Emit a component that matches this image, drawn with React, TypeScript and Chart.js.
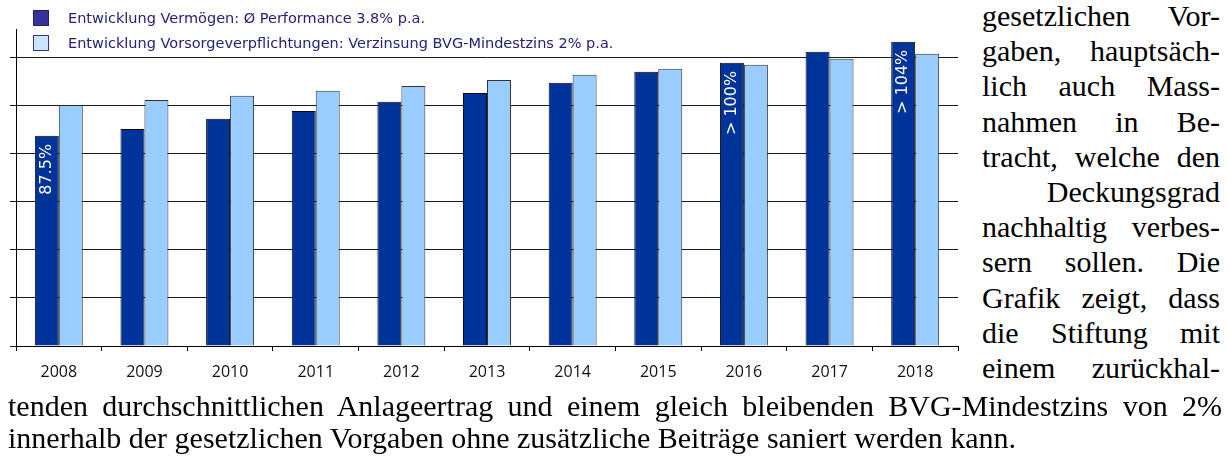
import React, { useEffect, useRef } from "react";
import { Chart, registerables } from "chart.js";

Chart.register(...registerables);

const years = ["2008", "2009", "2010", "2011", "2012", "2013", "2014", "2015", "2016", "2017", "2018"];
const assets = [87.5, 90.4, 94.6, 97.9, 101.7, 105.4, 109.6, 114.2, 117.9, 122.5, 126.7];
const liabilities = [100.2, 102.4, 104.2, 106.3, 108.3, 110.8, 112.9, 115.4, 117.1, 119.6, 121.7];
const barLabels = ["87.5%", "", "", "", "", "", "", "", "> 100%", "", "> 104%"];
const legendLabels = [
  "Entwicklung Vermögen: Ø Performance 3.8% p.a.",
  "Entwicklung Vorsorgeverpflichtungen: Verzinsung BVG-Mindestzins 2% p.a.",
];
const yMax = 132;
const yStep = 20;

const sideLines = [
  "gesetzlichen Vor-",
  "gaben, hauptsäch-",
  "lich auch Mass-",
  "nahmen in Be-",
  "tracht, welche den",
  "Deckungsgrad",
  "nachhaltig verbes-",
  "sern sollen. Die",
  "Grafik zeigt, dass",
  "die Stiftung mit",
  "einem zurückhal-",
];
const bottomLines = [
  "tenden durchschnittlichen Anlageertrag und einem gleich bleibenden BVG-Mindestzins von 2%",
  "innerhalb der gesetzlichen Vorgaben ohne zusätzliche Beiträge saniert werden kann.",
];

const DARK = "#003399";
const LIGHT = "#99ccff";

const sideCenters = [20, 55, 90, 126, 161, 196, 231, 266, 302, 337, 372];
const bottomCenters = [410, 442];

export default function App() {
  const ref = useRef<HTMLCanvasElement>(null);

  useEffect(() => {
    const labelPlugin = {
      id: "barLabels",
      afterDatasetsDraw(chart: any) {
        const meta = chart.getDatasetMeta(0);
        const ctx = chart.ctx;
        ctx.save();
        ctx.fillStyle = "#ffffff";
        ctx.font = '16px "DejaVu Sans"';
        ctx.textAlign = "right";
        ctx.textBaseline = "middle";
        meta.data.forEach((el: any, i: number) => {
          const t = barLabels[i];
          if (!t) return;
          ctx.save();
          ctx.translate(el.x, el.y + 8);
          ctx.rotate(-Math.PI / 2);
          ctx.fillText(t, 0, 0);
          ctx.restore();
        });
        ctx.restore();
      },
    };

    const chart = new Chart(ref.current as HTMLCanvasElement, {
      type: "bar",
      data: {
        labels: years,
        datasets: [
          {
            label: legendLabels[0],
            data: assets,
            backgroundColor: DARK,
            borderColor: "#0a0a0a",
            borderWidth: 1,
            barPercentage: 1,
            categoryPercentage: 0.56,
          },
          {
            label: legendLabels[1],
            data: liabilities,
            backgroundColor: LIGHT,
            borderColor: "#333333",
            borderWidth: 1,
            barPercentage: 1,
            categoryPercentage: 0.56,
          },
        ],
      },
      options: {
        responsive: false,
        animation: false,
        devicePixelRatio: 1,
        layout: { padding: { top: 29, right: 2, left: 0, bottom: 0 } },
        plugins: { legend: { display: false }, tooltip: { enabled: false } },
        scales: {
          x: {
            afterFit: (s: any) => {
              s.height = 54;
            },
            grid: {
              offset: true,
              drawOnChartArea: false,
              drawTicks: true,
              tickLength: 5,
              color: "#000",
            },
            border: { color: "#000", width: 1 },
            ticks: {
              color: "#111",
              padding: 12,
              font: { family: "Open Sans", size: 16 },
            },
          },
          y: {
            min: 0,
            max: yMax,
            afterFit: (s: any) => {
              s.width = 16;
            },
            afterBuildTicks: (s: any) => {
              s.ticks = s.ticks.filter((t: any) => t.value % yStep === 0);
            },
            ticks: { display: false, stepSize: yStep },
            grid: { color: "#1a1a1a", drawTicks: true, tickLength: 6, lineWidth: 1 },
            border: { color: "#000", width: 1 },
          },
        },
      },
      plugins: [labelPlugin],
    });
    return () => chart.destroy();
  }, []);

  const serif = '"Liberation Serif", "Times New Roman", serif';
  const sans = '"DejaVu Sans", Verdana, sans-serif';
  const fs = 30;

  return (
    <div
      style={{
        position: "absolute",
        left: 0,
        top: 0,
        width: 1230,
        height: 463,
        background: "#fff",
        overflow: "hidden",
      }}
    >
      <canvas ref={ref} width={960} height={400} style={{ position: "absolute", left: 0, top: 0 }} />
      {legendLabels.map((t, i) => (
        <React.Fragment key={t}>
          <div
            style={{
              position: "absolute",
              left: 33,
              top: i === 0 ? 10 : 35,
              width: 16,
              height: 16,
              boxSizing: "border-box",
              background: i === 0 ? "#333399" : "#cce5ff",
              border: i === 0 ? "1px solid #1f1f6b" : "1px solid #333399",
            }}
          />
          <div
            style={{
              position: "absolute",
              left: 68,
              top: (i === 0 ? 18 : 43) - 10,
              height: 20,
              lineHeight: "20px",
              whiteSpace: "nowrap",
              fontFamily: sans,
              fontSize: 14.5,
              color: "#22227a",
            }}
          >
            {t}
          </div>
        </React.Fragment>
      ))}
      {sideLines.map((t, i) => (
        <div
          key={t}
          style={{
            position: "absolute",
            left: 982,
            top: sideCenters[i] - 21,
            width: 238,
            height: 34,
            lineHeight: "34px",
            whiteSpace: "nowrap",
            fontFamily: serif,
            fontSize: fs,
            color: "#000",
            textAlign: "justify",
            textAlignLast: i === 5 ? "right" : "justify",
          } as React.CSSProperties}
        >
          {t}
        </div>
      ))}
      {bottomLines.map((t, i) => (
        <div
          key={t}
          style={{
            position: "absolute",
            left: 8,
            top: bottomCenters[i] - 21,
            width: 1214,
            height: 34,
            lineHeight: "34px",
            whiteSpace: "nowrap",
            fontFamily: serif,
            fontSize: fs,
            color: "#000",
            textAlign: "justify",
            textAlignLast: i === 0 ? "justify" : "left",
          } as React.CSSProperties}
        >
          {t}
        </div>
      ))}
    </div>
  );
}
